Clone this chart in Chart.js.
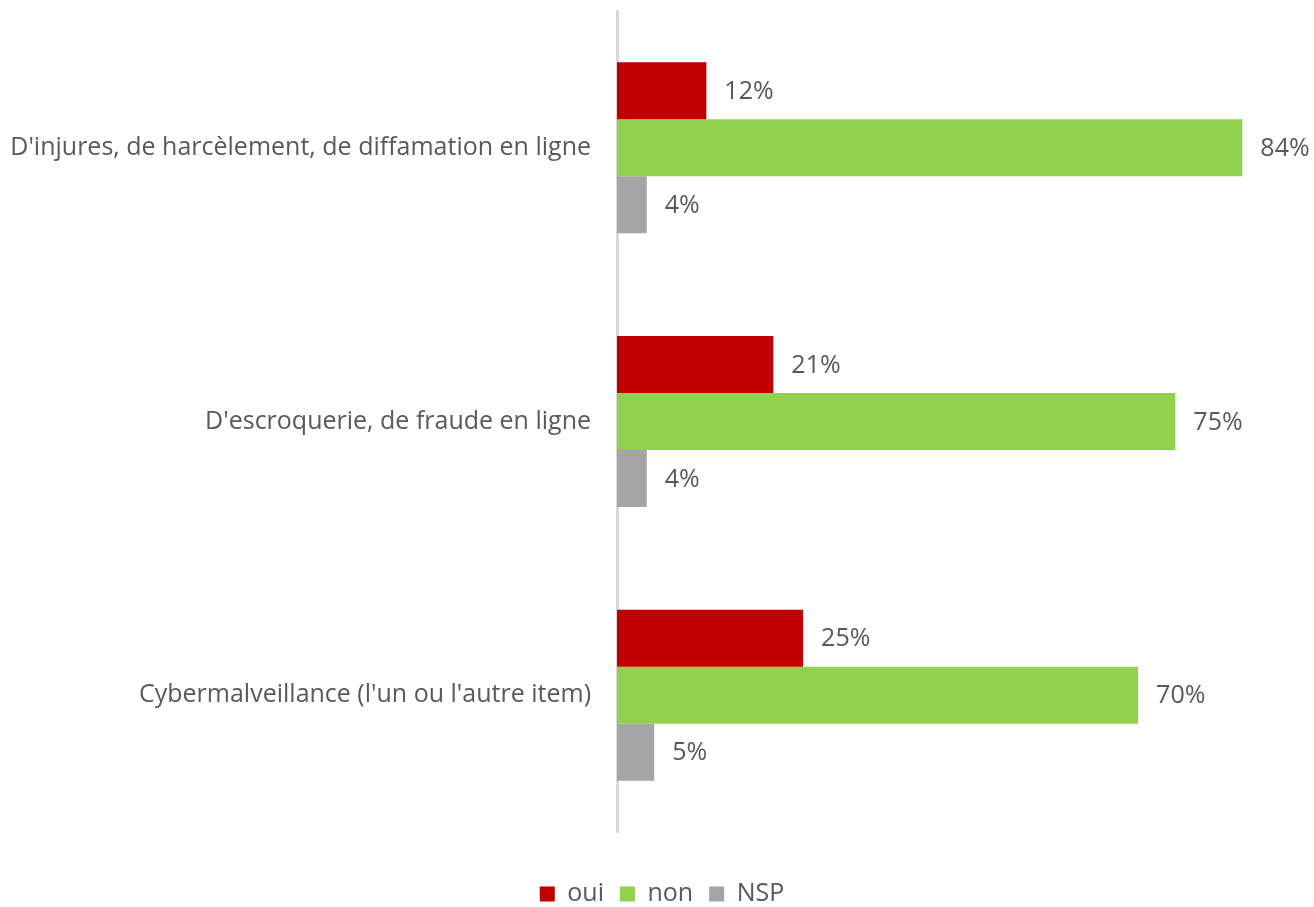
<!DOCTYPE html>
<html><head><meta charset="utf-8">
<script src="https://cdn.jsdelivr.net/npm/chart.js@4"></script>
<style>html,body{margin:0;padding:0;background:#fff;}#wrap{width:1314px;height:907px;}</style>
</head><body><div id="wrap"><canvas id="c"></canvas></div>
<script>
const categories = ["D'injures, de harcèlement, de diffamation en ligne", "D'escroquerie, de fraude en ligne", "Cybermalveillance (l'un ou l'autre item)"];
const seriesNames = ["oui", "non", "NSP"];
const oui = [12, 21, 25];
const non = [84, 75, 70];
const nsp = [4, 4, 5];
const colors = ["#C00000", "#92D050", "#A5A5A5"];
const FONT = "'Open Sans', 'Noto Sans', sans-serif";
const FS = 25;

const valueLabels = {
  id: 'valueLabels',
  afterDatasetsDraw(chart) {
    const ctx = chart.ctx;
    ctx.save();
    ctx.font = FS + "px " + FONT;
    ctx.fillStyle = "#595959";
    ctx.textAlign = "left";
    ctx.textBaseline = "middle";
    chart.data.datasets.forEach((ds, i) => {
      chart.getDatasetMeta(i).data.forEach((bar, j) => {
        ctx.fillText(ds.data[j] + "%", bar.x + 18, bar.y + 1);
      });
    });
    ctx.restore();
  }
};

const legendShift = {
  id: 'legendShift',
  afterLayout(chart) {
    if (chart.legend) { chart.legend.left += 13.5; chart.legend.right += 13.5; }
  }
};

new Chart(document.getElementById('c'), {
  type: 'bar',
  data: {
    labels: categories,
    datasets: [
      { label: seriesNames[0], data: oui, backgroundColor: colors[0] },
      { label: seriesNames[1], data: non, backgroundColor: colors[1] },
      { label: seriesNames[2], data: nsp, backgroundColor: colors[2] }
    ]
  },
  options: {
    indexAxis: 'y',
    responsive: true,
    maintainAspectRatio: false,
    animation: false,
    layout: { padding: { left: 10, right: 27, top: 11, bottom: -9.5 } },
    datasets: { bar: { categoryPercentage: 0.625, barPercentage: 1.0 } },
    scales: {
      x: {
        display: true, min: 0, max: 90,
        grid: { display: false, drawTicks: false },
        border: { display: false },
        ticks: { display: false },
        afterFit: s => { s.height = 33.5; }
      },
      y: {
        grid: { display: false, drawTicks: false },
        border: { display: true, color: '#D9D9D9', width: 3 },
        ticks: { font: { size: FS, family: FONT }, color: '#595959', padding: 26 },
        afterFit: s => { s.width = 607; s.paddingTop = 0; s.paddingBottom = 0; }
      }
    },
    plugins: {
      tooltip: { enabled: false },
      legend: {
        position: 'bottom',
        labels: {
          font: { size: FS, family: FONT }, color: '#595959',
          boxWidth: 15, boxHeight: 15, padding: 16
        }
      }
    }
  },
  plugins: [valueLabels, legendShift]
});
</script></body></html>
